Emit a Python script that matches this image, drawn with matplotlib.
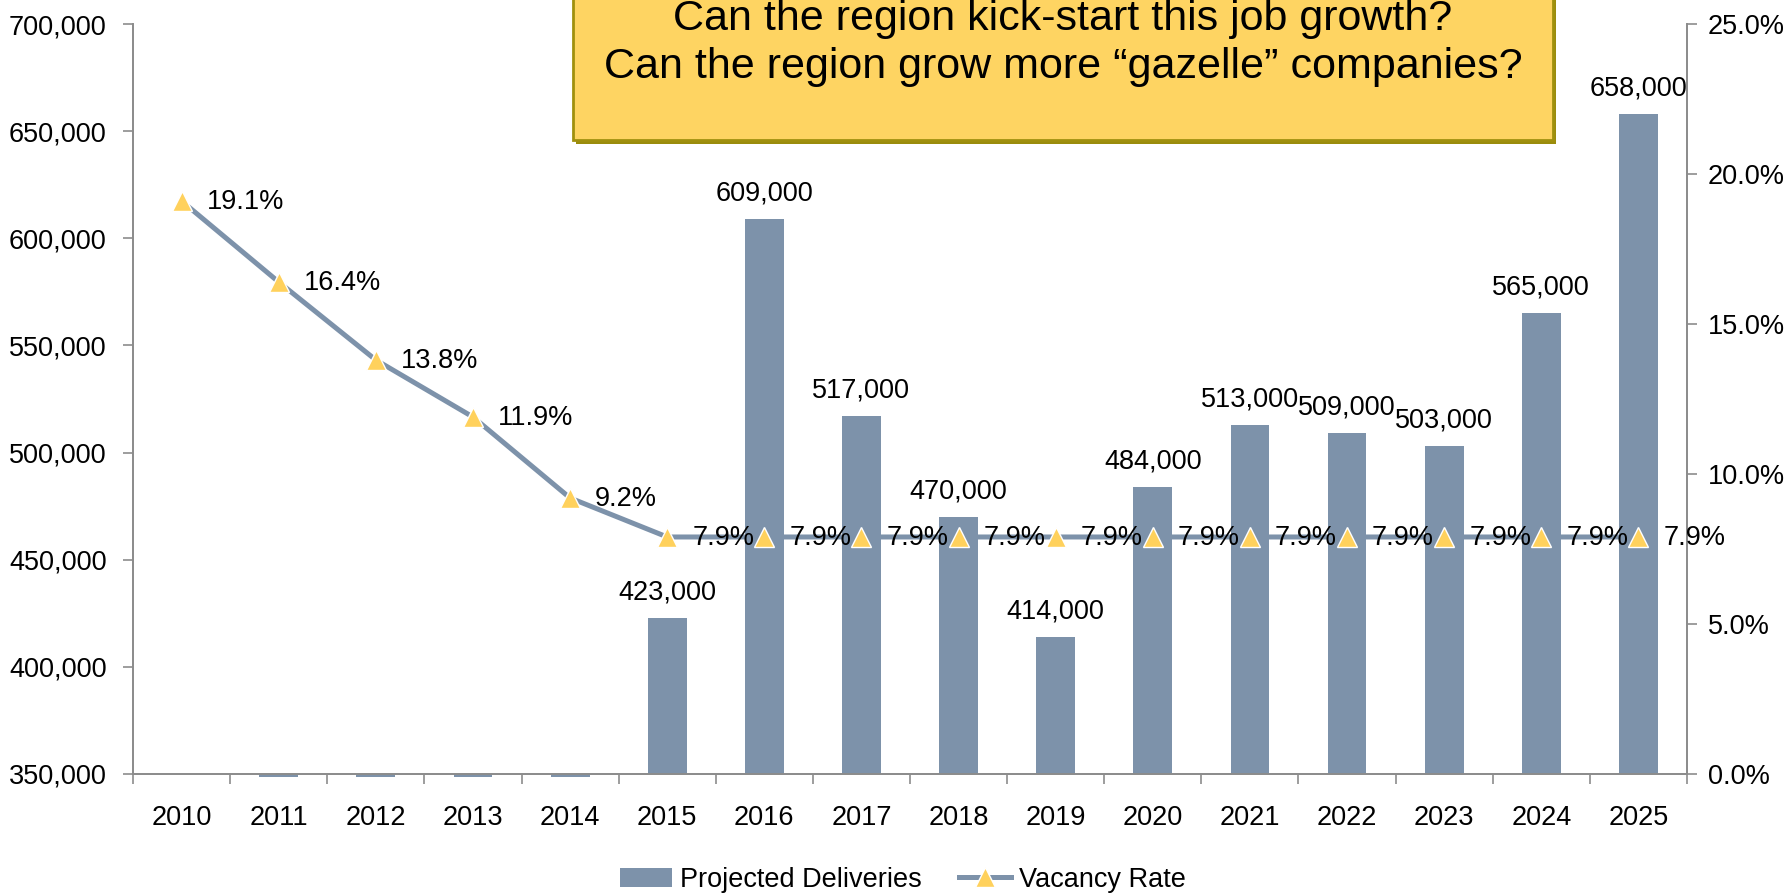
import numpy as np
import matplotlib
matplotlib.use("Agg")
import matplotlib.pyplot as plt
from matplotlib.patches import Rectangle, Patch
from matplotlib.lines import Line2D
from matplotlib.ticker import FuncFormatter, MultipleLocator

plt.rcParams['font.family'] = ['Liberation Sans', 'DejaVu Sans']

years = [str(y) for y in range(2010, 2026)]
deliveries = [np.nan, 0, 0, 0, 0, 423000, 609000, 517000, 470000, 414000,
              484000, 513000, 509000, 503000, 565000, 658000]
vacancy = [19.1, 16.4, 13.8, 11.9, 9.2, 7.9, 7.9, 7.9, 7.9, 7.9,
           7.9, 7.9, 7.9, 7.9, 7.9, 7.9]

bar_color = '#7D92AA'
marker_color = '#FFD15C'
axis_color = '#8C8C8C'
fs = 19.5

y_min, y_max = 350000, 700000

fig = plt.figure(figsize=(17.88, 8.93), dpi=100)
ax = fig.add_axes([0.0744, 0.1333, 0.8691, 0.8398])
ax2 = ax.twinx()

x = np.arange(len(years))
vals = np.array(deliveries, dtype=float)
# bars start at the axis floor; zero values show as a thin stub below it
heights = np.where(vals < y_min, -1200, vals - y_min)
ax.bar(x, heights, bottom=y_min, width=0.4, color=bar_color, clip_on=False, zorder=2)

for xi, v in zip(x, vals):
    if np.isfinite(v) and v > y_min:
        ax.annotate(f"{int(v):,}", (xi, v), xytext=(0, 9), textcoords='offset points',
                    ha='center', va='bottom', fontsize=fs, color='black')

ax.set_xlim(-0.5, len(years) - 0.5)
ax.set_ylim(y_min, y_max)
ax.yaxis.set_major_locator(MultipleLocator(50000))
ax.yaxis.set_major_formatter(FuncFormatter(lambda v, p: f"{int(v):,}"))

ax2.plot(x, vacancy, color=bar_color, lw=3.6, marker='^', markersize=14,
         markerfacecolor=marker_color, markeredgecolor='white', markeredgewidth=1.0,
         zorder=3, clip_on=False)
for xi, v in zip(x, vacancy):
    ax2.annotate(f"{v:.1f}%", (xi, v), xytext=(18, -1), textcoords='offset points',
                 ha='left', va='center', fontsize=fs, color='black', zorder=4)
ax2.set_ylim(0, 25)
ax2.yaxis.set_major_locator(MultipleLocator(5))
ax2.yaxis.set_major_formatter(FuncFormatter(lambda v, p: f"{v:.1f}%"))

ax.set_xticks(x)
ax.set_xticklabels(years)
ax.set_xticks(np.arange(-0.5, len(years)), minor=True)
ax.tick_params(axis='x', which='major', length=0, pad=22, labelsize=fs)
ax.tick_params(axis='x', which='minor', length=7, width=1.2, color=axis_color, direction='out')
ax.tick_params(axis='y', length=7, width=1.2, color=axis_color, labelsize=fs, pad=12)
ax2.tick_params(axis='y', length=7, width=1.2, color=axis_color, labelsize=fs, pad=8)

for a in (ax, ax2):
    a.spines['top'].set_visible(False)
    for side in ('left', 'right', 'bottom'):
        a.spines[side].set_color(axis_color)
        a.spines[side].set_linewidth(1.3)
ax.set_zorder(1)
ax2.set_zorder(2)
ax.patch.set_visible(False)

# callout box at the top
bx0, by0 = 573 / 1788, 1 - 140 / 893
bw, bh = (1553 - 573) / 1788, 0.3
fig.patches.append(Rectangle((bx0 + 3 / 1788, by0 - 4 / 893), bw, bh, transform=fig.transFigure,
                             facecolor='#9A8C0C', edgecolor='none', zorder=10))
fig.patches.append(Rectangle((bx0, by0), bw, bh, transform=fig.transFigure,
                             facecolor='#FED462', edgecolor='#A0900E', lw=2.0, zorder=11))
fig.text(bx0 + bw / 2, 1 - 19 / 893, "Can the region kick-start this job growth?",
         ha='center', va='center', fontsize=31, color='black', zorder=12)
fig.text(bx0 + bw / 2, 1 - 67 / 893, "Can the region grow more \u201cgazelle\u201d companies?",
         ha='center', va='center', fontsize=31, color='black', zorder=12)

handles = [Patch(facecolor=bar_color, edgecolor='none', label='Projected Deliveries'),
           Line2D([0], [0], color=bar_color, lw=3.6, marker='^', markersize=14,
                  markerfacecolor=marker_color, markeredgecolor='white', label='Vacancy Rate')]
fig.legend(handles=handles, loc='center', bbox_to_anchor=(0.505, 0.015), ncol=2,
           frameon=False, fontsize=fs, handlelength=1.9, handletextpad=0.3,
           columnspacing=1.4, borderaxespad=0)

fig.savefig('out.png', dpi=100)
